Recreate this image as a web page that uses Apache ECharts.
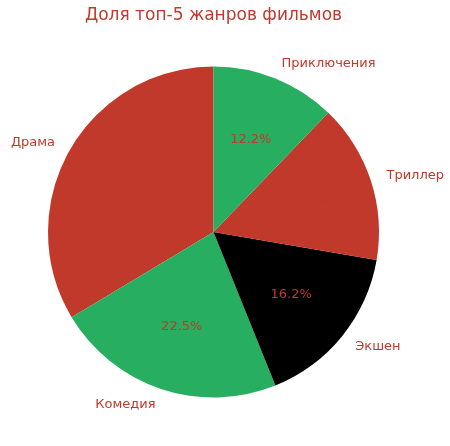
<!DOCTYPE html>
<html>
<head>
<meta charset="utf-8">
<script src="https://cdn.jsdelivr.net/npm/echarts@6/dist/echarts.min.js"></script>
<style>html,body{margin:0;padding:0;background:#fff}#c{width:450px;height:446px}</style>
</head>
<body>
<div id="c"></div>
<script>
const genres = ['Драма', 'Комедия', 'Экшен', 'Триллер', 'Приключения'];
const shares = [33.6, 22.5, 16.2, 15.5, 12.2];
const colors = ['#c0392b', '#27ae60', '#000000', '#c0392b', '#27ae60'];
const titleText = 'Доля топ-5 жанров фильмов';

const red = '#c0392b';
const cx = 213.5, cy = 232, R = 165.5;
const font = 'DejaVu Sans';

const mainData = genres.map((g, i) => ({ name: g, value: shares[i], itemStyle: { color: colors[i] } }));
const pctData = genres.map((g, i) => ({ name: g, value: shares[i] }));

const chart = echarts.init(document.getElementById('c'), null, { renderer: 'canvas' });
chart.setOption({
  animation: false,
  backgroundColor: '#fff',
  title: {
    text: titleText, left: cx, textAlign: 'center', top: 7, padding: 0,
    textStyle: { color: red, fontFamily: font, fontSize: 17, fontWeight: 'normal' }
  },
  series: [
    {
      type: 'pie',
      center: [cx, cy],
      radius: [0, R],
      startAngle: 90,
      clockwise: false,
      avoidLabelOverlap: false,
      data: mainData,
      label: {
        show: true, position: 'outside', color: red, fontFamily: font, fontSize: 13,
        distanceToLabelLine: 0, formatter: '{b}'
      },
      labelLine: { show: false, length: R * 0.1, length2: 0 },
      emphasis: { disabled: true },
      silent: true
    },
    {
      type: 'pie',
      center: [cx, cy],
      radius: [R * 0.17, R],
      startAngle: 90,
      clockwise: false,
      avoidLabelOverlap: false,
      data: pctData,
      itemStyle: { color: 'rgba(0,0,0,0)' },
      label: {
        show: true, position: 'inside', color: red, fontFamily: font, fontSize: 13,
        formatter: p => p.value.toFixed(1) + '%'
      },
      labelLine: { show: false },
      emphasis: { disabled: true },
      silent: true
    }
  ]
});
</script>
</body>
</html>
